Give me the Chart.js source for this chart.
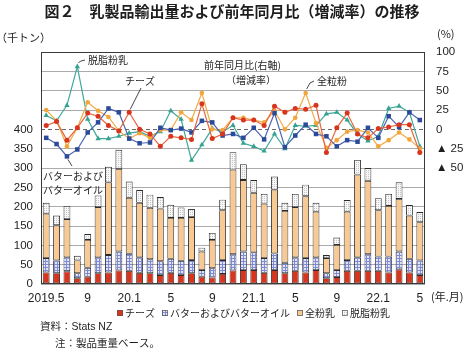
<!DOCTYPE html>
<html>
<head>
<meta charset="utf-8">
<script src="https://cdn.jsdelivr.net/npm/chart.js"></script>
<style>
html, body { margin: 0; padding: 0; background: #fff; }
</style>
</head>
<body>
<canvas id="c" width="467" height="354"></canvas>
<script>
// 月 (2019.5 - 2022.5)
const months = ['2019.5','6','7','8','9','10','11','12','20.1','2','3','4','5','6','7','8','9','10','11','12',
                '21.1','2','3','4','5','6','7','8','9','10','11','12','22.1','2','3','4','5'];

// 輸出量 (千トン)
const cheeseQty = [30,28,33,15,19,28,30,35,34,29,28,23,29,23,28,19,17,26,35,36,36,29,36,28,34,30,36,15,18,34,34,34,34,30,38,30,23];
const butterQty = [37,33,36,13,23,41,45,49,44,40,36,36,36,37,34,17,24,36,42,48,46,38,43,27,35,37,33,13,18,28,35,43,37,41,46,35,38];
const wmpQty    = [115,91,99,33,72,130,188,214,145,141,133,136,106,111,111,48,73,129,219,185,154,141,165,134,130,160,118,39,65,125,214,190,120,131,136,112,99];
const smpQty    = [28,25,34,12,15,30,40,49,42,33,34,30,34,27,21,10,18,27,45,41,33,25,34,21,34,30,23,8,19,30,38,33,31,31,43,27,26];

// 前年同月比 (%)
const cheeseYoY = [5,10,-14,2,21,17,5,-2,22,0,-6,-22,-9,-11,-13,33,-12,-6,15,12,12,5,30,22,27,26,31,-30,2,21,-6,-11,1,3,6,6,-30];
const butterYoY = [-11,-19,-35,-26,-4,9,27,22,-12,-18,-17,2,-1,1,-4,11,9,-8,-6,-11,2,-13,21,-23,-8,6,-6,-9,-22,-14,-16,2,-11,17,3,22,12];
const wmpYoY    = [25,11,-22,2,35,24,16,-2,-12,-5,-11,-1,-1,22,12,47,0,-1,15,15,12,9,24,0,15,47,8,-24,-14,-3,-1,-4,-22,-14,-4,-13,-25];
const smpYoY    = [18,11,31,81,13,-12,-12,-9,-5,-3,-9,-3,24,13,-40,-20,1,-3,5,-18,-22,-28,-6,-25,5,4,5,20,22,12,-6,-15,-9,27,30,22,-22];

const ctx = document.getElementById('c').getContext('2d');
const FONT = '"Liberation Sans", "Noto Sans CJK JP", sans-serif';
const JP = '"Noto Sans CJK JP", sans-serif';

function makePattern(bg, fg, kind) {
  const p = document.createElement('canvas');
  const n = kind === 'grid' ? 3 : 2;
  p.width = n; p.height = n;
  const g = p.getContext('2d');
  g.fillStyle = bg;
  g.fillRect(0, 0, n, n);
  g.fillStyle = fg;
  if (kind === 'grid') {
    g.fillRect(0, 0, n, 1);
    g.fillRect(0, 0, 1, n);
  } else {
    g.fillRect(0, 0, 1, 1);
  }
  return ctx.createPattern(p, 'repeat');
}

const butterFill = makePattern('#e2e5f7', '#7f8ad4', 'grid');
const smpFill = makePattern('#f7f7f7', '#c4c4c4', 'dots');

function lineSet(label, data, line, pt, style, r) {
  return {
    type: 'line', label, data, yAxisID: 'y1',
    borderColor: line, borderWidth: 1.2,
    pointBackgroundColor: pt, pointBorderColor: pt,
    pointStyle: style, pointRadius: r, pointBorderWidth: 0,
    tension: 0, fill: false
  };
}

function barSet(label, data, color) {
  return {
    type: 'bar', label, data, yAxisID: 'y', stack: 'q',
    backgroundColor: color, borderColor: '#2a2a2a', borderWidth: 0.9,
    borderSkipped: false, barPercentage: 0.66, categoryPercentage: 1
  };
}

function pt(chart, ds, i) {
  return chart.getDatasetMeta(ds).data[i];
}

const extras = {
  id: 'extras',
  beforeDatasetsDraw(chart) {
    const c = chart.ctx, a = chart.chartArea;
    const y0 = Math.round(chart.scales.y1.getPixelForValue(0)) + 0.5;
    c.save();
    c.strokeStyle = '#6a6a6a';
    c.lineWidth = 1;
    c.setLineDash([4, 3]);
    c.beginPath();
    c.moveTo(a.left, y0);
    c.lineTo(a.right, y0);
    c.stroke();
    c.restore();
  },
  afterDraw(chart) {
    const c = chart.ctx, a = chart.chartArea;
    c.save();
    c.strokeStyle = '#3a3a3a';
    c.lineWidth = 1;
    c.strokeRect(a.left + 0.5, a.top + 0.5, a.width - 1, a.height - 1);

    c.fillStyle = '#1e1e1e';
    c.textBaseline = 'middle';
    c.textAlign = 'center';
    c.font = 'bold 15px ' + JP;
    c.fillText('図２　乳製品輸出量および前年同月比（増減率）の推移', 232, 11);

    c.textAlign = 'left';
    c.font = '11px ' + JP;
    c.fillText('（千トン）', -4, 38);
    c.fillText('(%)', 437, 34);
    c.fillText('(年.月)', 431, 297);

    // 注記
    c.font = '10px ' + JP;
    c.fillText('脱脂粉乳', 88, 60);
    c.fillText('前年同月比(右軸)', 204, 65);
    c.fillText('（増減率）', 226, 80);
    c.fillText('全粒粉', 317, 81);
    c.fillText('バターおよび', 43, 176);
    c.fillText('バターオイル', 43, 190);
    c.textAlign = 'center';
    c.fillText('チーズ', 140, 81);

    c.strokeStyle = '#333';
    c.lineWidth = 0.9;
    let p = pt(chart, 3, 3);
    c.beginPath(); c.moveTo(p.x + 1, p.y - 4); c.lineTo(81, 61); c.lineTo(85, 60); c.stroke();
    p = pt(chart, 0, 8);
    c.beginPath(); c.moveTo(141, 88); c.lineTo(p.x + 1, p.y - 3); c.stroke();
    p = pt(chart, 2, 25);
    c.beginPath(); c.moveTo(314, 81); c.lineTo(310, 83); c.lineTo(p.x + 1, p.y - 4); c.stroke();
    p = pt(chart, 1, 2);
    c.beginPath(); c.moveTo(p.x + 1, p.y + 3); c.lineTo(72, 166); c.stroke();

    // 凡例
    const items = [['チーズ', '#d8351f'], ['バターおよびバターオイル', butterFill],
                   ['全粉乳', '#f8c993'], ['脱脂粉乳', smpFill]];
    c.textAlign = 'left';
    c.font = '10px ' + JP;
    let x = 117;
    items.forEach(([t, col]) => {
      c.fillStyle = col;
      c.fillRect(x, 310, 6, 6);
      c.strokeStyle = '#555';
      c.lineWidth = 0.7;
      c.strokeRect(x + 0.5, 310.5, 5, 5);
      c.fillStyle = '#1e1e1e';
      c.fillText(t, x + 8, 313.5);
      x += 8 + c.measureText(t).width + 7;
    });

    c.font = '10.5px ' + FONT;
    c.fillText('資料：Stats NZ', 40, 327);
    c.fillText('注：製品重量ベース。', 55, 344);
    c.restore();
  }
};

new Chart(ctx, {
  data: {
    labels: months,
    datasets: [
      lineSet('チーズ', cheeseYoY, '#e9653f', '#d8351f', 'circle', 2.5),
      lineSet('バターおよびバターオイル', butterYoY, '#4a63b0', '#2c4a9a', 'rect', 3.2),
      lineSet('全粉乳', wmpYoY, '#f2ab45', '#f2a53a', 'circle', 2.3),
      lineSet('脱脂粉乳', smpYoY, '#3fa899', '#35a292', 'triangle', 3.1),
      barSet('チーズ', cheeseQty, '#d8351f'),
      barSet('バターおよびバターオイル', butterQty, butterFill),
      barSet('全粉乳', wmpQty, '#f8c993'),
      barSet('脱脂粉乳', smpQty, smpFill)
    ]
  },
  options: {
    responsive: false,
    animation: false,
    devicePixelRatio: 1,
    layout: { padding: { top: 52, left: 0, right: 0, bottom: 0 } },
    plugins: { legend: { display: false }, tooltip: { enabled: false } },
    scales: {
      x: {
        stacked: true,
        grid: { display: false, drawTicks: false },
        border: { display: false },
        ticks: {
          autoSkip: false, maxRotation: 0, minRotation: 0, padding: 7,
          color: '#1e1e1e', font: { family: FONT, size: 12 },
          callback: (v, i) => i % 4 === 0 ? months[i] : ''
        },
        afterFit: s => { s.height = 70; }
      },
      y: {
        position: 'left', stacked: true, min: 0, max: 600,
        grid: {
          drawTicks: false,
          color: c => c.tick && c.tick.value === 400 ? 'rgba(0,0,0,0)' : '#ababab'
        },
        border: { display: false },
        ticks: {
          stepSize: 50, padding: 8, color: '#1e1e1e', font: { family: FONT, size: 11.5 },
          callback: v => v <= 400 ? v : ''
        },
        afterFit: s => { s.width = 41; }
      },
      y1: {
        position: 'right', min: -200, max: 100,
        grid: { display: false, drawTicks: false },
        border: { display: false },
        ticks: {
          stepSize: 25, padding: 11, color: '#1e1e1e', font: { family: FONT, size: 11.5 },
          callback: v => v < -50 ? '' : (v < 0 ? '▲ ' + (-v) : v)
        },
        afterFit: s => { s.width = 42; }
      }
    }
  },
  plugins: [extras]
});
</script>
</body>
</html>
